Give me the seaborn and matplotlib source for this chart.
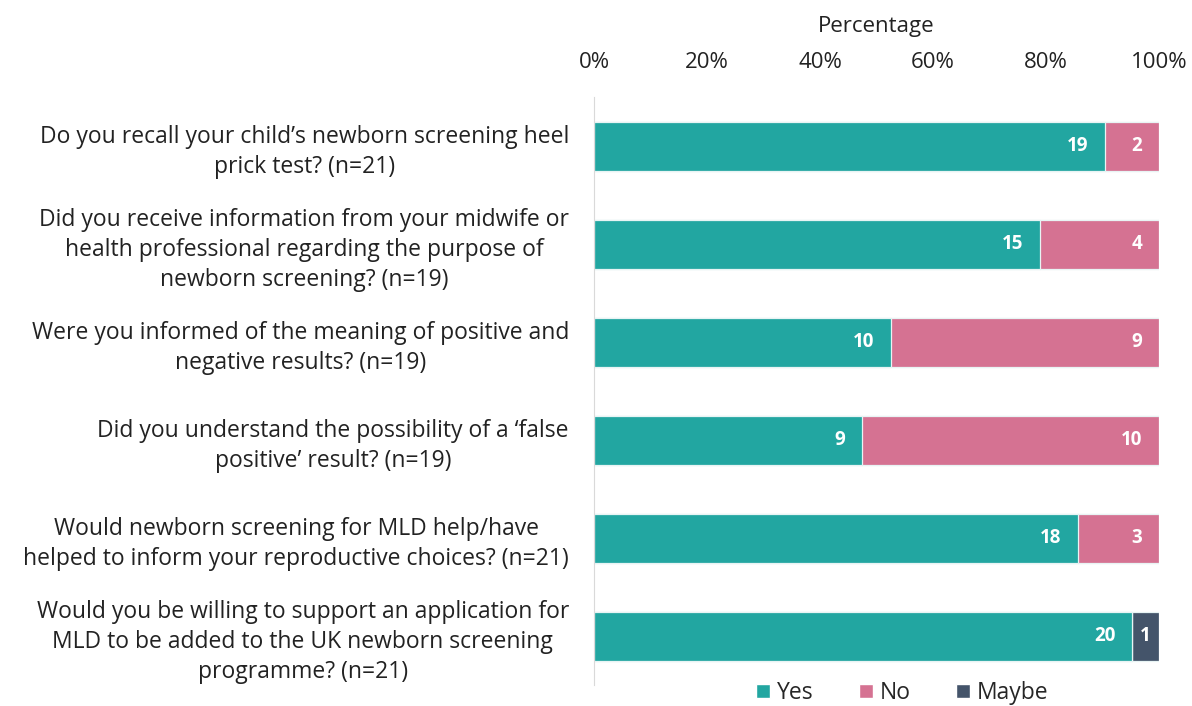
import pandas as pd
import seaborn as sns
import matplotlib.pyplot as plt
from matplotlib.patches import Patch

# Survey questions and answer counts
questions = [
    "Do you recall your child\u2019s newborn screening heel\nprick test? (n=21)",
    "Did you receive information from your midwife or\nhealth professional regarding the purpose of\nnewborn screening? (n=19)",
    "Were you informed of the meaning of positive and\nnegative results? (n=19)",
    "Did you understand the possibility of a \u2018false\npositive\u2019 result? (n=19)",
    "Would newborn screening for MLD help/have\nhelped to inform your reproductive choices? (n=21)",
    "Would you be willing to support an application for\nMLD to be added to the UK newborn screening\nprogramme? (n=21)",
]
yes = [19, 15, 10, 9, 18, 20]
no = [2, 4, 9, 10, 3, 0]
maybe = [0, 0, 0, 0, 0, 1]

colors = {"Yes": "#22A6A1", "No": "#D57292", "Maybe": "#44546A"}

df = pd.DataFrame({"question": questions, "Yes": yes, "No": no, "Maybe": maybe})
df["n"] = df["Yes"] + df["No"] + df["Maybe"]
df["yes_pct"] = df["Yes"] / df["n"] * 100
df["no_end"] = (df["Yes"] + df["No"]) / df["n"] * 100
df["maybe_end"] = 100.0

sns.set_style("white")
plt.rcParams["font.family"] = ["Open Sans", "DejaVu Sans"]

fig = plt.figure(figsize=(11.92, 7.06), dpi=100)
ax = fig.add_axes([0.4983, 0.0297, 0.474, 0.8329])

# stacked bars: draw cumulative totals back to front
for col, key in [("maybe_end", "Maybe"), ("no_end", "No"), ("yes_pct", "Yes")]:
    sns.barplot(data=df, x=col, y="question", color=colors[key], width=0.5,
                saturation=1, edgecolor="#e8f4f4", linewidth=0.9, ax=ax)

# count labels inside segment ends
for i, row in df.iterrows():
    for cnt, end, off in [(row["Yes"], row["yes_pct"], -12), (row["No"], row["no_end"], -12),
                          (row["Maybe"], row["maybe_end"], -6)]:
        if cnt > 0:
            ax.annotate(str(cnt), (end, i), xytext=(off, 0), textcoords="offset points",
                        ha="right", va="center", color="white", fontsize=13.5,
                        fontweight="bold")

ax.set_xlim(0, 100)
ax.xaxis.tick_top()
ax.xaxis.set_label_position("top")
ax.set_xticks([0, 20, 40, 60, 80, 100])
ax.set_xticklabels([f"{t}%" for t in [0, 20, 40, 60, 80, 100]])
ax.tick_params(axis="x", length=0, pad=17, labelsize=16, labelcolor="#222222")
ax.tick_params(axis="y", length=0, pad=18, labelsize=16.5, labelcolor="#222222")
ax.set_xlabel("Percentage", fontsize=16, labelpad=15, color="#222222")
ax.set_ylabel("")
for lab in ax.get_yticklabels():
    lab.set_multialignment("center")
    lab.set_linespacing(1.35)

for s in ["top", "right", "bottom"]:
    ax.spines[s].set_visible(False)
ax.spines["left"].set_color("#d9d9d9")

handles = [Patch(facecolor=colors[k], label=k) for k in ["Yes", "No", "Maybe"]]
fig.legend(handles=handles, loc="center", bbox_to_anchor=(0.757, 0.018), ncol=3,
           frameon=False, fontsize=16.5, handlelength=0.6, handleheight=0.6,
           handletextpad=0.3, columnspacing=2.0)

fig.savefig("out.png", dpi=100)
